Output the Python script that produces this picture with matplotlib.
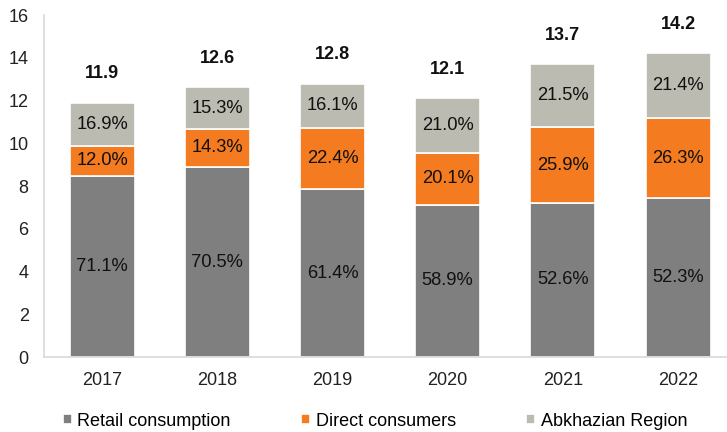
import matplotlib
matplotlib.use("Agg")
import matplotlib.pyplot as plt
import numpy as np

years = ["2017", "2018", "2019", "2020", "2021", "2022"]
totals = [11.9, 12.6, 12.8, 12.1, 13.7, 14.2]
retail_pct = [71.1, 70.5, 61.4, 58.9, 52.6, 52.3]
direct_pct = [12.0, 14.3, 22.4, 20.1, 25.9, 26.3]
abkh_pct = [16.9, 15.3, 16.1, 21.0, 21.5, 21.4]
series_names = ["Retail consumption", "Direct consumers", "Abkhazian Region"]
colors = ["#7f7f7f", "#f47b20", "#bbbbb1"]

plt.rcParams['font.family'] = ['Liberation Sans', 'DejaVu Sans']

fig = plt.figure(figsize=(7.27, 4.32), dpi=100)
ax = fig.add_axes([44/727, 75/432, 1 - 44/727, (357-15)/432])

x = np.arange(len(years))
tot = np.array(totals)
pcts = [np.array(retail_pct), np.array(direct_pct), np.array(abkh_pct)]
bottom = np.zeros(len(years))
width = 0.565
for name, p, c in zip(series_names, pcts, colors):
    h = tot * p / 100
    ax.bar(x, h, width, bottom=bottom, color=c, edgecolor="white", linewidth=1.2, label=name)
    for xi, b, hi, pv in zip(x, bottom, h, p):
        ax.text(xi, b + hi/2, f"{pv:.1f}%", ha="center", va="center", fontsize=13.2, color="#111111")
    bottom = bottom + h

for xi, t in zip(x, totals):
    ax.text(xi, t + 1.35, f"{t:.1f}", ha="center", va="center", fontsize=13, fontweight="bold", color="#111111")

ax.set_xlim(-0.505, 5.425)
ax.set_ylim(0, 16)
ax.set_yticks(range(0, 17, 2))
ax.set_xticks(x)
ax.set_xticklabels(years)
ax.tick_params(axis="both", length=0, labelsize=13, colors="#222222")
ax.tick_params(axis="y", pad=11)
ax.tick_params(axis="x", pad=11)
for s in ["top", "right"]:
    ax.spines[s].set_visible(False)
for s in ["left", "bottom"]:
    ax.spines[s].set_color("#d9d9d9")
    ax.spines[s].set_linewidth(1.2)

handles, labels = ax.get_legend_handles_labels()
fig.legend(handles, labels, loc="center", bbox_to_anchor=(375/727, 1 - 421/432), ncol=3,
           frameon=False, fontsize=13, handlelength=0.5, handleheight=0.5,
           handletextpad=0.3, columnspacing=3.9, borderpad=0, borderaxespad=0)

fig.savefig("out.png", dpi=100)
